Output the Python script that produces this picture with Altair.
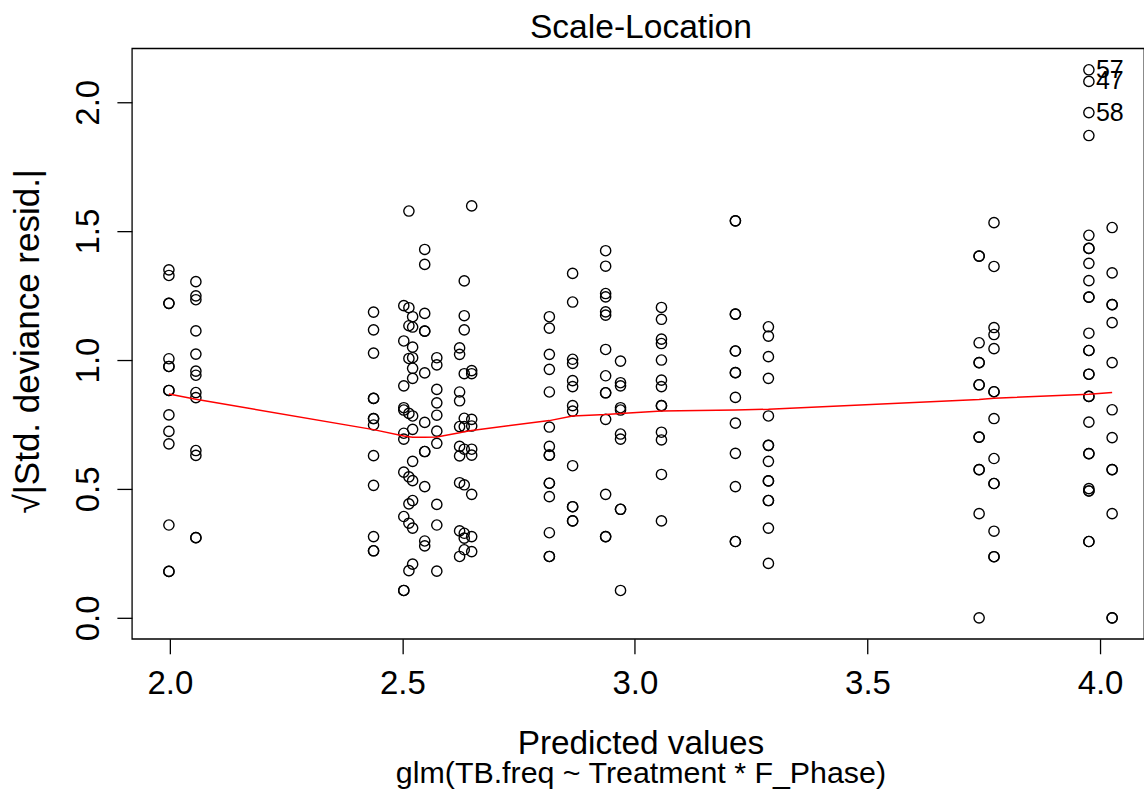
import altair as alt
import pandas as pd

FONT = "Liberation Sans"

# Predicted values (x position of each column of points)
predicted = [1.998, 2.056, 2.438, 2.503, 2.514, 2.522, 2.548, 2.574, 2.623, 2.633,
             2.649, 2.816, 2.866, 2.937, 2.969, 3.057, 3.216, 3.287, 3.740, 3.772,
             3.976, 4.026]

# sqrt(|std. deviance residual|) for each column
col01 = [1.350, 1.328, 1.220, 1.220, 1.005, 0.975, 0.975, 0.882, 0.882, 0.787, 0.723, 0.675, 0.360, 0.180, 0.180]
col02 = [1.304, 1.249, 1.234, 1.113, 1.023, 0.957, 0.941, 0.874, 0.854, 0.649, 0.630, 0.311, 0.311]
col03 = [1.186, 1.117, 1.027, 0.851, 0.851, 0.773, 0.773, 0.748, 0.629, 0.514, 0.315, 0.260, 0.260]
col04 = [1.211, 1.074, 0.900, 0.815, 0.806, 0.716, 0.693, 0.565, 0.393, 0.106, 0.106]
col05 = [1.578, 1.203, 1.133, 1.006, 0.793, 0.547, 0.442, 0.367, 0.183]
col06 = [1.168, 1.128, 1.050, 1.009, 0.968, 0.929, 0.783, 0.731, 0.607, 0.532, 0.455, 0.348, 0.208]
col07 = [1.429, 1.371, 1.181, 1.112, 1.112, 0.950, 0.758, 0.645, 0.645, 0.509, 0.298, 0.279]
col08 = [1.009, 0.981, 0.886, 0.834, 0.786, 0.724, 0.677, 0.440, 0.360, 0.181]
col09 = [1.047, 1.022, 0.876, 0.842, 0.742, 0.665, 0.628, 0.524, 0.337, 0.238]
col10 = [1.307, 1.172, 1.117, 0.947, 0.774, 0.742, 0.654, 0.516, 0.328, 0.309, 0.264]
col11 = [1.598, 0.959, 0.947, 0.770, 0.744, 0.654, 0.631, 0.479, 0.315, 0.257]
col12 = [1.168, 1.124, 1.022, 0.964, 0.876, 0.740, 0.665, 0.631, 0.631, 0.522, 0.522, 0.470, 0.330, 0.238, 0.238]
col13 = [1.336, 1.225, 1.003, 0.987, 0.920, 0.897, 0.823, 0.802, 0.590, 0.431, 0.431, 0.376, 0.376]
col14 = [1.424, 1.364, 1.258, 1.245, 1.187, 1.174, 1.041, 0.939, 0.873, 0.873, 0.770, 0.479, 0.315, 0.315]
col15 = [0.996, 0.912, 0.900, 0.815, 0.806, 0.713, 0.693, 0.421, 0.421, 0.106]
col16 = [1.204, 1.158, 1.081, 1.064, 1.000, 0.922, 0.897, 0.823, 0.823, 0.720, 0.690, 0.556, 0.376]
col17 = [1.540, 1.540, 1.178, 1.178, 1.035, 1.035, 0.951, 0.951, 0.855, 0.755, 0.638, 0.509, 0.296, 0.296]
col18 = [1.129, 1.093, 1.013, 0.929, 0.783, 0.669, 0.669, 0.607, 0.531, 0.531, 0.455, 0.455, 0.348, 0.211]
col19 = [1.403, 1.403, 1.067, 0.990, 0.990, 0.904, 0.904, 0.701, 0.701, 0.575, 0.575, 0.404, 0.000]
col20 = [1.533, 1.363, 1.126, 1.099, 1.044, 0.877, 0.877, 0.773, 0.618, 0.521, 0.521, 0.336, 0.237, 0.237]
col21 = [2.126, 2.081, 1.960, 1.871, 1.484, 1.433, 1.433, 1.375, 1.308, 1.244, 1.244, 1.104, 1.037, 1.037,
         0.945, 0.945, 0.859, 0.859, 0.759, 0.637, 0.637, 0.501, 0.492, 0.492, 0.296, 0.296]
col22 = [1.514, 1.338, 1.215, 1.215, 1.145, 0.990, 0.807, 0.699, 0.575, 0.575, 0.404, 0.000, 0.000]

columns = [col01, col02, col03, col04, col05, col06, col07, col08, col09, col10, col11,
           col12, col13, col14, col15, col16, col17, col18, col19, col20, col21, col22]

# red smoother line
smooth_y = [0.868, 0.848, 0.730, 0.705, 0.702, 0.700, 0.700, 0.701, 0.718, 0.722,
            0.727, 0.765, 0.783, 0.789, 0.793, 0.802, 0.806, 0.809, 0.847, 0.852,
            0.867, 0.874]

# labelled extreme points
label_ids = ["57", "47", "58"]
label_x = [3.976, 3.976, 3.976]
label_y = [2.126, 2.081, 1.960]

x_ticks = [2.0, 2.5, 3.0, 3.5, 4.0]
y_ticks = [0.0, 0.5, 1.0, 1.5, 2.0]

rows = []
for xv, vals in zip(predicted, columns):
    for v in vals:
        rows.append({"fitted": xv, "resid": v})
pts = pd.DataFrame(rows)
sm = pd.DataFrame({"fitted": predicted, "resid": smooth_y})
lab = pd.DataFrame({"fitted": label_x, "resid": label_y, "id": label_ids})

xscale = alt.Scale(domain=[1.9184, 4.0945], nice=False, zero=False)
yscale = alt.Scale(domain=[-0.0814, 2.2093], nice=False, zero=False)

xaxis = alt.Axis(orient="bottom", values=x_ticks, format=".1f", tickSize=15, labelPadding=14,
                 title="Predicted values", titleFontSize=33.4,
                 titleBaseline="alphabetic", titleAlign="center",
                 titleX=509, titleY=115)
xaxis_sub = alt.Axis(orient="bottom", values=x_ticks, labels=False, ticks=False,
                     domain=False, grid=False,
                     title="glm(TB.freq ~ Treatment * F_Phase)", titleFontSize=30.4,
                     titleBaseline="alphabetic", titleAlign="center",
                     titleX=509, titleY=144)
yaxis = alt.Axis(values=y_ticks, format=".1f", tickSize=15, labelPadding=18,
                 labelAngle=270, labelAlign="center", labelBaseline="alphabetic",
                 title="\u221a|Std. deviance resid.|", titleAngle=270, titleFontSize=35,
                 titleAlign="left", titleBaseline="alphabetic", titleX=-93, titleY=465)

points = alt.Chart(pts).mark_point(
    shape="circle", filled=False, color="black", size=105, strokeWidth=1.4, opacity=1
).encode(
    x=alt.X("fitted:Q", scale=xscale, axis=xaxis),
    y=alt.Y("resid:Q", scale=yscale, axis=yaxis),
)

line = alt.Chart(sm).mark_line(color="red", strokeWidth=1.5).encode(
    x=alt.X("fitted:Q", scale=xscale, axis=xaxis_sub),
    y=alt.Y("resid:Q", scale=yscale, axis=yaxis),
)

text = alt.Chart(lab).mark_text(
    align="left", baseline="middle", dx=7, fontSize=25, font=FONT, color="black"
).encode(
    x=alt.X("fitted:Q", scale=xscale, axis=None),
    y=alt.Y("resid:Q", scale=yscale, axis=yaxis),
    text="id:N",
)

chart = alt.layer(points, line, text).resolve_axis(x="independent").properties(
    width=1013,
    height=591,
    padding={"left": 132, "top": 48, "right": 0, "bottom": 159},
    autosize=alt.AutoSizeParams(type="none"),
    title=alt.TitleParams(text="Scale-Location", font=FONT, fontSize=33.6,
                          fontWeight="normal", color="black", anchor="middle",
                          baseline="alphabetic", offset=11, dx=3, dy=34),
).configure_view(
    stroke="black", strokeWidth=1.3
).configure_axis(
    labelFont=FONT, labelFontSize=33, labelColor="black",
    titleFont=FONT, titleFontWeight="normal", titleColor="black",
    tickColor="black", tickWidth=1.3, domain=False, grid=False,
)

chart.save("out.html", embed_options={"renderer": "svg", "actions": False})
